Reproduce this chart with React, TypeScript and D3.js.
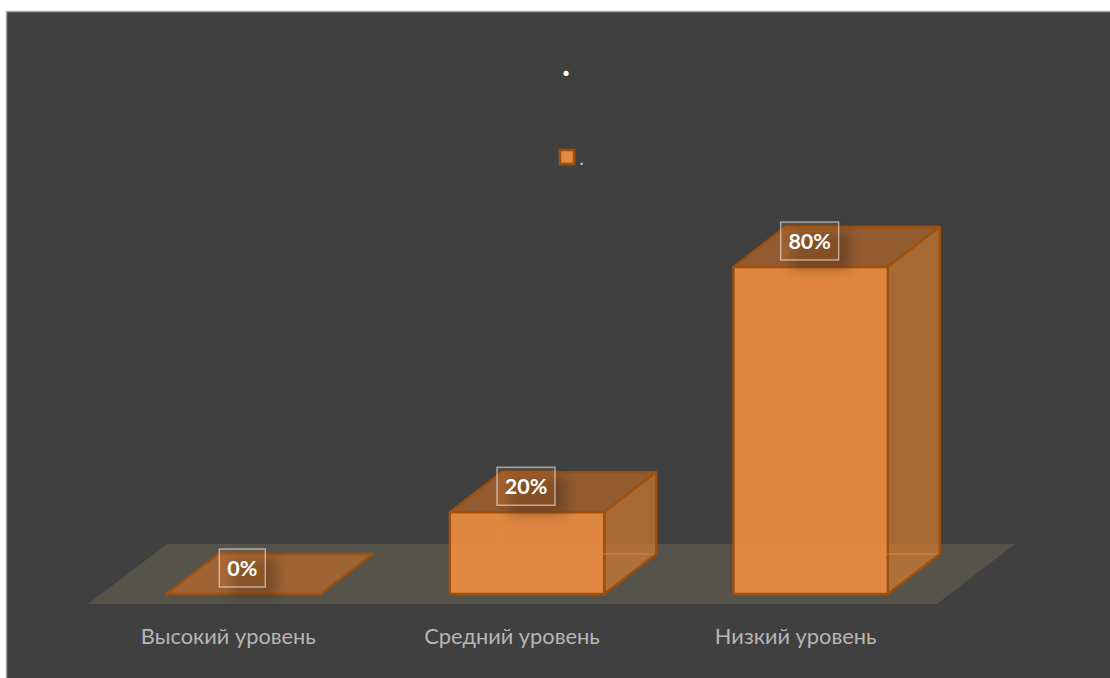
import React from "react";
import * as d3 from "d3";

// Survey levels and their shares, in percent
const categories = ["Высокий уровень", "Средний уровень", "Низкий уровень"];
const shares = [0, 20, 80];
const valueTicks = [0, 80];

const W = 1110;
const H = 678;
const DEPTH_X = 52;
const DEPTH_Y = -40;

const x = d3.scaleBand<string>().domain(categories).range([101.5, 952.5]).paddingInner(0.456).paddingOuter(0.228);
const y = d3.scaleLinear().domain(valueTicks).range([594, 267]);

const poly = (pts: [number, number][]) => (d3.line()(pts) ?? "") + "Z";

const FRONT = "#E68A42";
const TOP = "#E67620";
const SIDE = "#E9822E";
const EDGE = "#9E500E";
const FONT = "Lato, 'Open Sans', 'Noto Sans', sans-serif";

function Box({ value, category }: { value: number; category: string }) {
  const x0 = x(category)!;
  const x1 = x0 + x.bandwidth();
  const yb = y(0);
  const yt = y(value);
  const dx = DEPTH_X;
  const dy = DEPTH_Y;
  const edge = { stroke: EDGE, strokeWidth: 2.4, strokeLinejoin: "round" as const };

  if (value === 0) {
    return (
      <path
        d={poly([[x0, yb], [x1, yb], [x1 + dx, yb + dy], [x0 + dx, yb + dy]])}
        fill={TOP}
        fillOpacity={0.5}
        {...edge}
      />
    );
  }
  return (
    <g>
      <path d={poly([[x0, yt], [x1, yt], [x1 + dx, yt + dy], [x0 + dx, yt + dy]])} fill={TOP} fillOpacity={0.5} {...edge} />
      <path d={poly([[x1, yt], [x1 + dx, yt + dy], [x1 + dx, yb + dy], [x1, yb]])} fill={SIDE} fillOpacity={0.62} {...edge} />
      <path d={poly([[x0, yt], [x1, yt], [x1, yb], [x0, yb]])} fill={FRONT} fillOpacity={0.96} {...edge} />
      {/* Hidden edges showing faintly through the translucent box */}
      <g stroke="#EC8536" strokeWidth={2} fill="none" opacity={0.4}>
        <path d={`M${x0 + dx},${yt + 2}V${yb + dy}H${x1 + dx - 2}`} />
        <path d={`M${x0 + 2},${yb - 2}L${x0 + dx},${yb + dy}`} />
      </g>
    </g>
  );
}

function ValueLabel({ value, category }: { value: number; category: string }) {
  const cx = x(category)! + x.bandwidth() / 2 - 1;
  const cy = y(value) - 26;
  const text = `${value}%`;
  const w = value === 0 ? 46 : 58;
  const h = 38;
  return (
    <g>
      <rect x={cx - w / 2 + 11} y={cy - h / 2 + 9} width={w} height={h} fill="#2e1c0c" opacity={0.34} filter="url(#labelShadow)" />
      <rect
        x={cx - w / 2}
        y={cy - h / 2}
        width={w}
        height={h}
        fill="#F08A3A"
        fillOpacity={0.16}
        stroke="#ffffff"
        strokeOpacity={0.55}
        strokeWidth={1.4}
      />
      <text x={cx} y={cy + 7.5} textAnchor="middle" fontFamily={FONT} fontWeight={700} fontSize={21.5} fill="#ffffff">
        {text}
      </text>
    </g>
  );
}

export default function App() {
  const floorBottom = 604;
  const floorTop = 544;
  return (
    <svg
      width={W}
      height={H}
      viewBox={`0 0 ${W} ${H}`}
      style={{ position: "absolute", left: 0, top: 0, display: "block", background: "#ffffff" }}
    >
      <defs>
        <filter id="labelShadow" x="-50%" y="-50%" width="200%" height="200%">
          <feGaussianBlur stdDeviation="6" />
        </filter>
      </defs>
      <rect x={6.5} y={11.5} width={W} height={H} fill="#404040" stroke="#a6a6a6" strokeWidth={1.4} />

      {/* Chart title and legend, both a single dot */}
      <text x={566} y={76} textAnchor="middle" fontFamily={FONT} fontWeight={700} fontSize={34} fill="#ffffff">.</text>
      <rect x={560} y={150} width={14} height={14} fill={FRONT} stroke={EDGE} strokeWidth={2.6} />
      <text x={581.5} y={164.5} textAnchor="middle" fontFamily={FONT} fontSize={20} fill="#bfbfbf">.</text>

      {/* Floor */}
      <path d={poly([[88, floorBottom], [937, floorBottom], [1015, floorTop], [167, floorTop]])} fill="#56534a" />

      {categories.map((c, i) => (
        <Box key={c} category={c} value={shares[i]} />
      ))}
      {categories.map((c, i) => (
        <ValueLabel key={c} category={c} value={shares[i]} />
      ))}
      {categories.map((c) => (
        <text
          key={c}
          x={x(c)! + x.bandwidth() / 2 - 15}
          y={644}
          textAnchor="middle"
          fontFamily={FONT}
          fontSize={21.8}
          fill="#b6b6b6"
        >
          {c}
        </text>
      ))}
    </svg>
  );
}
